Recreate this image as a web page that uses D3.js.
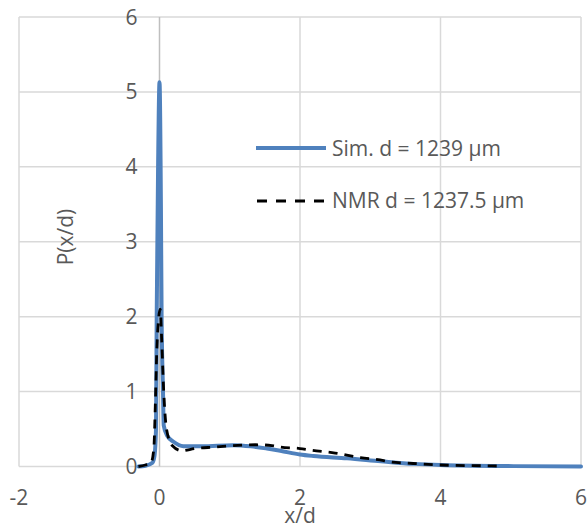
<!DOCTYPE html>
<html><head><meta charset="utf-8">
<script src="https://cdn.jsdelivr.net/npm/d3@7"></script>
<style>body{margin:0;background:#fff}svg{display:block}</style>
</head><body>
<svg id="c" width="588" height="528"></svg>
<script>
const xTicks = [-2, 0, 2, 4, 6];
const yTicks = [0, 1, 2, 3, 4, 5, 6];
const seriesNames = ["Sim. d = 1239 µm", "NMR d = 1237.5 µm"];
const simX = [-0.3,-0.2,-0.1,-0.07,-0.05,-0.04,-0.02,0.0,0.02,0.03,0.05,0.06,0.11,0.2,0.34,0.6,1.05,1.3,1.53,1.72,2.0,2.19,2.67,3.15,3.62,4.0,5.04,6.0];
const simY = [0,0.01,0.05,0.15,0.5,2.0,4.0,5.13,3.5,2.0,1.0,0.55,0.41,0.33,0.27,0.27,0.285,0.27,0.24,0.21,0.16,0.14,0.11,0.07,0.035,0.02,0.005,0.0];
const nmrX = [-0.3,-0.2,-0.12,-0.08,-0.06,-0.04,-0.01,0.01,0.03,0.06,0.1,0.18,0.32,0.5,0.8,1.05,1.37,1.6,1.72,2.0,2.15,2.5,2.86,3.19,3.29,3.53,4.0,4.57,4.9];
const nmrY = [0.0,0.02,0.05,0.25,0.8,1.5,2.0,2.1,1.72,1.0,0.5,0.28,0.21,0.24,0.26,0.28,0.29,0.28,0.26,0.24,0.22,0.18,0.12,0.08,0.06,0.045,0.02,0.01,0.005];

const svg = d3.select("#c");
const x = d3.scaleLinear().domain([-2, 6]).range([19, 581]);
const y = d3.scaleLinear().domain([0, 6]).range([466.5, 17]);
const font = "'Open Sans', sans-serif";
const txt = "#595959";
const fs = 21;

// gridlines
svg.append("g").selectAll("line").data(yTicks).join("line")
  .attr("x1", x(-2)).attr("x2", x(6))
  .attr("y1", d => y(d)).attr("y2", d => y(d))
  .attr("stroke", "#d9d9d9").attr("stroke-width", 1.5);
svg.append("g").selectAll("line").data(xTicks).join("line")
  .attr("x1", d => x(d)).attr("x2", d => x(d))
  .attr("y1", y(0)).attr("y2", y(6))
  .attr("stroke", d => d === 0 ? "#bfbfbf" : "#d9d9d9").attr("stroke-width", 1.5);

// y tick labels (axis at x=0)
svg.append("g").selectAll("text").data(yTicks).join("text")
  .attr("x", x(0) - 22).attr("y", d => y(d) + 7.5)
  .attr("text-anchor", "end").attr("font-family", font).attr("font-size", fs)
  .attr("fill", txt).text(d => d);
// x tick labels
svg.append("g").selectAll("text").data(xTicks).join("text")
  .attr("x", d => x(d)).attr("y", 505)
  .attr("text-anchor", "middle").attr("font-family", font).attr("font-size", fs)
  .attr("fill", txt).text(d => d);

// axis titles
svg.append("text").attr("x", 300).attr("y", 523).attr("text-anchor", "middle")
  .attr("font-family", font).attr("font-size", fs).attr("fill", txt).text("x/d");
svg.append("text").attr("transform", "translate(73,237) rotate(-90)").attr("text-anchor", "middle")
  .attr("font-family", font).attr("font-size", fs).attr("fill", txt).text("P(x/d)");

const line = d3.line().x(d => x(d[0])).y(d => y(d[1])).curve(d3.curveMonotoneX);
const simData = simX.map((v, i) => [v, simY[i]]);
const nmrData = nmrX.map((v, i) => [v, nmrY[i]]);

svg.append("path").datum(simData).attr("d", line)
  .attr("fill", "none").attr("stroke", "#4f81bd").attr("stroke-width", 4)
  .attr("stroke-linejoin", "round").attr("stroke-linecap", "round");
svg.append("path").datum(nmrData).attr("d", line)
  .attr("fill", "none").attr("stroke", "#000").attr("stroke-width", 2.8)
  .attr("stroke-dasharray", "9,7");

// legend
const leg = svg.append("g");
leg.append("line").attr("x1", 256).attr("x2", 326).attr("y1", 148).attr("y2", 148)
  .attr("stroke", "#4f81bd").attr("stroke-width", 4);
leg.append("text").attr("x", 332).attr("y", 155.5).attr("font-family", font).attr("font-size", fs)
  .attr("fill", txt).text(seriesNames[0]);
leg.append("line").attr("x1", 257).attr("x2", 326).attr("y1", 201).attr("y2", 201)
  .attr("stroke", "#000").attr("stroke-width", 2.8).attr("stroke-dasharray", "10,9");
leg.append("text").attr("x", 332).attr("y", 208).attr("font-family", font).attr("font-size", fs)
  .attr("fill", txt).text(seriesNames[1]);
</script>
</body></html>
